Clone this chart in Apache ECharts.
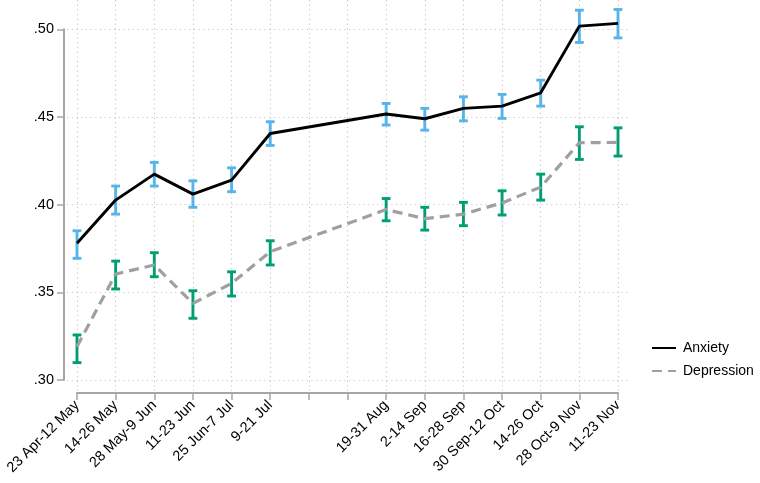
<!DOCTYPE html>
<html>
<head>
<meta charset="utf-8">
<script src="https://cdn.jsdelivr.net/npm/echarts@6/dist/echarts.min.js"></script>
<style>html,body{margin:0;padding:0;background:#fff}#c{width:760px;height:483px}</style>
</head>
<body>
<div id="c"></div>
<script>
const tickLabels = ['23 Apr-12 May','14-26 May','28 May-9 Jun','11-23 Jun','25 Jun-7 Jul','9-21 Jul','','','19-31 Aug','2-14 Sep','16-28 Sep','30 Sep-12 Oct','14-26 Oct','28 Oct-9 Nov','11-23 Nov'];
const positions = [0,1,2,3,4,5,8,9,10,11,12,13,14];
const anxiety  = [.3780,.4026,.4174,.4060,.4140,.4406,.4517,.4490,.4549,.4562,.4638,.5018,.5034];
const anxLow   = [.3694,.3946,.4106,.3985,.4074,.4338,.4454,.4425,.4478,.4492,.4562,.4925,.4951];
const anxHigh  = [.3851,.4106,.4241,.4136,.4210,.4473,.4577,.4549,.4615,.4629,.4710,.5109,.5113];
const depression = [.3190,.3604,.3656,.3437,.3551,.3732,.3972,.3920,.3946,.4010,.4100,.4353,.4355];
const depLow   = [.3099,.3519,.3589,.3352,.3479,.3656,.3908,.3855,.3880,.3941,.4026,.4258,.4277];
const depHigh  = [.3257,.3678,.3726,.3509,.3617,.3794,.4035,.3985,.4013,.4079,.4174,.4444,.4438];

const FONT = '"Liberation Sans", Arial, Helvetica, sans-serif';
const chart = echarts.init(document.getElementById('c'), null, {renderer:'canvas'});

function capItem(color){
  return function(params, api){
    const x = api.value(0);
    const p1 = api.coord([x, api.value(1)]);
    const p2 = api.coord([x, api.value(2)]);
    const hw = 4.4;
    const st = {stroke: color, lineWidth: 2.9};
    return {type:'group', children:[
      {type:'line', shape:{x1:p1[0], y1:p1[1], x2:p2[0], y2:p2[1]}, style:st},
      {type:'line', shape:{x1:p1[0]-hw, y1:p1[1], x2:p1[0]+hw, y2:p1[1]}, style:st},
      {type:'line', shape:{x1:p2[0]-hw, y1:p2[1], x2:p2[0]+hw, y2:p2[1]}, style:st}
    ]};
  };
}

const gridLine = {show:true, lineStyle:{color:'#c8c8c8', type:[1.2,3.5], width:1.2}};
const hidden = {axisLine:{show:false}, axisTick:{show:false}, axisLabel:{show:false}};

const option = {
  animation:false,
  backgroundColor:'#fff',
  grid:[
    {left:77, right:142, top:29.3, bottom:103},
    {left:77, right:142, top:0, bottom:92},
    {left:67, right:130, top:29.3, bottom:103}
  ],
  xAxis:[
    {gridIndex:0, type:'value', min:0, max:14, interval:1, offset:13,
     axisLine:{show:true, onZero:false, lineStyle:{color:'#a6a6a6', width:2}},
     axisTick:{show:true, length:7, lineStyle:{color:'#a6a6a6', width:1.5}},
     axisLabel:{rotate:45, margin:10, color:'#000', fontFamily:FONT, fontSize:14.5,
       formatter:function(v){return tickLabels[Math.round(v)] || '';}},
     splitLine:{show:false}},
    Object.assign({gridIndex:1, type:'value', min:0, max:14, interval:1, splitLine:gridLine}, hidden),
    Object.assign({gridIndex:2, type:'value', min:0, max:1, splitLine:{show:false}}, hidden)
  ],
  yAxis:[
    {gridIndex:0, type:'value', min:0.30, max:0.50, interval:0.05, offset:13,
     axisLine:{show:true, onZero:false, lineStyle:{color:'#a6a6a6', width:2}},
     axisTick:{show:true, length:7, lineStyle:{color:'#a6a6a6', width:1.5}},
     axisLabel:{margin:10, color:'#000', fontFamily:FONT, fontSize:14.5,
       formatter:function(v){return v.toFixed(2).replace(/^0/,'');}},
     splitLine:{show:false}},
    Object.assign({gridIndex:1, type:'value', min:0, max:1, splitLine:{show:false}}, hidden),
    Object.assign({gridIndex:2, type:'value', min:0.30, max:0.50, interval:0.05, splitLine:gridLine}, hidden)
  ],
  legend:{
    orient:'vertical', left:646, top:336, itemWidth:24, itemHeight:14, itemGap:9,
    data:['Anxiety','Depression'],
    itemStyle:{opacity:0},
    textStyle:{color:'#000', fontFamily:FONT, fontSize:14, padding:[0,0,0,2]}
  },
  series:[
    {type:'custom', xAxisIndex:0, yAxisIndex:0, renderItem:capItem('#56B4E9'), z:2, clip:false,
     data: positions.map((p,i)=>[p, anxLow[i], anxHigh[i]])},
    {type:'custom', xAxisIndex:0, yAxisIndex:0, renderItem:capItem('#009E73'), z:2, clip:false,
     data: positions.map((p,i)=>[p, depLow[i], depHigh[i]])},
    {name:'Anxiety', type:'line', xAxisIndex:0, yAxisIndex:0, symbol:'none', z:3, clip:false,
     lineStyle:{color:'#000', width:2.9}, itemStyle:{color:'#000'},
     data: positions.map((p,i)=>[p, anxiety[i]])},
    {name:'Depression', type:'line', xAxisIndex:0, yAxisIndex:0, symbol:'none', z:3, clip:false,
     lineStyle:{color:'#a0a0a0', width:3.2, type:[10,6]}, itemStyle:{color:'#a0a0a0'},
     data: positions.map((p,i)=>[p, depression[i]])}
  ]
};
chart.setOption(option);
</script>
</body>
</html>
